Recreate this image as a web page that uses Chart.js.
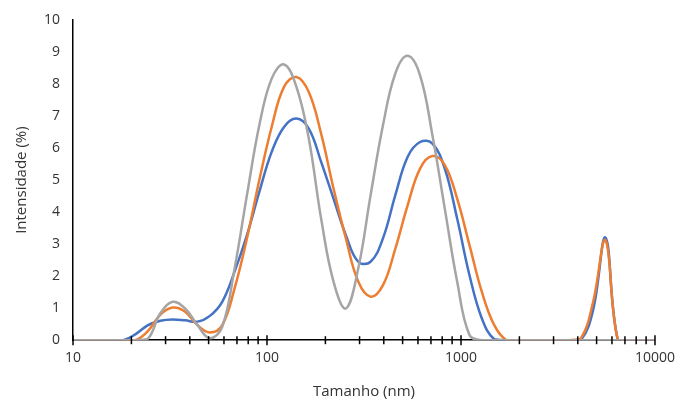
<!DOCTYPE html>
<html>
<head>
<meta charset="utf-8">
<script src="https://cdn.jsdelivr.net/npm/chart.js@4.4.1/dist/chart.umd.min.js"></script>
<style>
  html, body { margin: 0; padding: 0; background: #fff; }
  #wrap { width: 684px; height: 406px; }
</style>
</head>
<body>
<div id="wrap"><canvas id="grafico"></canvas></div>
<script>
// tamanhos (nm) das classes do DLS
var tamanhos = [10.10, 11.70, 13.54, 15.69, 18.17, 21.04, 24.36, 28.21, 32.67, 37.84,
    43.82, 50.75, 58.77, 68.06, 78.82, 91.28, 105.7, 122.4, 141.8, 164.2,
    190.1, 220.2, 255.0, 295.3, 342.0, 396.1, 458.7, 531.2, 615.1, 712.4,
    825.0, 955.4, 1106, 1281, 1484, 1718, 1991, 2305, 2669, 3091,
    3580, 4145, 4801, 5560, 6439, 7456, 8635, 10000];

var serieAzul = [0, 0, 0, 0, 0, 0.19, 0.47, 0.61, 0.65, 0.62,
    0.58, 0.76, 1.2, 2.14, 3.28, 4.63, 5.88, 6.66, 6.92, 6.61,
    5.57, 4.42, 3.28, 2.45, 2.45, 3.18, 4.53, 5.73, 6.19, 6.14,
    5.36, 3.8, 2.03, 0.68, 0.03, 0, 0, 0, 0, 0,
    0, 0, 0.95, 3.2, 0, 0, 0, 0];

var serieLaranja = [0, 0, 0, 0, 0, 0, 0.29, 0.8, 1.02, 0.89,
    0.47, 0.24, 0.47, 1.62, 3.18, 5.0, 6.66, 7.91, 8.22, 7.75,
    6.45, 4.74, 3.18, 1.83, 1.36, 1.72, 2.86, 4.22, 5.36, 5.75,
    5.47, 4.42, 2.97, 1.51, 0.47, 0, 0, 0, 0, 0,
    0, 0.05, 1.2, 3.12, 0, 0, 0, 0];

var serieCinza = [0, 0, 0, 0, 0, 0, 0.05, 0.84, 1.2, 0.99,
    0.47, 0.06, 0.42, 2.24, 4.53, 6.71, 8.17, 8.61, 7.91, 6.3,
    3.8, 1.83, 0.99, 2.24, 4.53, 6.71, 8.33, 8.88, 8.27, 6.4,
    4.11, 1.83, 0.16, 0, 0, 0, 0, 0, 0, 0,
    0, 0, 0, 0, 0, 0, 0, 0];

var rotulosX = [10, 100, 1000, 10000];

function pontos(valores) {
    return tamanhos.map(function (t, i) { return { x: t, y: valores[i] }; });
}

// marcas do eixo x atravessando a linha (estilo Excel)
var marcasEixo = {
    id: 'marcasEixo',
    afterDraw: function (chart) {
        var ctx = chart.ctx;
        var sx = chart.scales.x;
        var y0 = chart.scales.y.getPixelForValue(0);
        ctx.save();
        ctx.strokeStyle = '#000';
        ctx.lineWidth = 1.5;
        for (var d = 10; d <= 10000; d *= 10) {
            for (var m = 1; m <= 9; m++) {
                var v = d * m;
                if (v > 10000) break;
                var px = sx.getPixelForValue(v);
                var h = (m === 1) ? 5 : 4;
                ctx.beginPath();
                ctx.moveTo(px, y0 - h);
                ctx.lineTo(px, y0 + h);
                ctx.stroke();
            }
        }
        ctx.restore();
    }
};

var fonteTicks = { family: 'Open Sans', size: 14 };
var fonteTitulo = { family: 'Open Sans', size: 15 };
var corTexto = '#333333';

new Chart(document.getElementById('grafico'), {
    type: 'line',
    data: {
        datasets: [{
            data: pontos(serieAzul),
            borderColor: '#4472C4',
            borderWidth: 2.5,
            pointRadius: 0,
            tension: 0.4,
            order: 2
        }, {
            data: pontos(serieLaranja),
            borderColor: '#ED7D31',
            borderWidth: 2.5,
            pointRadius: 0,
            tension: 0.4,
            order: 1
        }, {
            data: pontos(serieCinza),
            borderColor: '#A5A5A5',
            borderWidth: 2.5,
            pointRadius: 0,
            tension: 0.4,
            order: 0
        }]
    },
    options: {
        responsive: true,
        maintainAspectRatio: false,
        animation: false,
        layout: { padding: { top: 12, right: 20, bottom: 5, left: 13 } },
        plugins: { legend: { display: false }, tooltip: { enabled: false } },
        scales: {
            x: {
                type: 'logarithmic',
                min: 10,
                max: 10000,
                grid: { display: false, drawTicks: false },
                border: { display: true, color: '#000', width: 1.5 },
                ticks: {
                    autoSkip: false,
                    maxRotation: 0,
                    padding: 9,
                    color: corTexto,
                    font: fonteTicks,
                    callback: function (v) {
                        return rotulosX.indexOf(v) >= 0 ? String(v) : '';
                    }
                },
                title: {
                    display: true,
                    text: 'Tamanho (nm)',
                    color: corTexto,
                    font: fonteTitulo,
                    padding: { top: 8, bottom: 0 }
                }
            },
            y: {
                min: 0,
                max: 10,
                grid: { display: false, drawTicks: false },
                border: { display: true, color: '#000', width: 1.5 },
                ticks: {
                    stepSize: 1,
                    padding: 13,
                    color: corTexto,
                    font: { family: 'Open Sans', size: 14, lineHeight: 1 }
                },
                title: {
                    display: true,
                    text: 'Intensidade (%)',
                    color: corTexto,
                    font: fonteTitulo,
                    padding: { top: 0, bottom: 0 }
                }
            }
        }
    },
    plugins: [marcasEixo]
});
</script>
</body>
</html>
